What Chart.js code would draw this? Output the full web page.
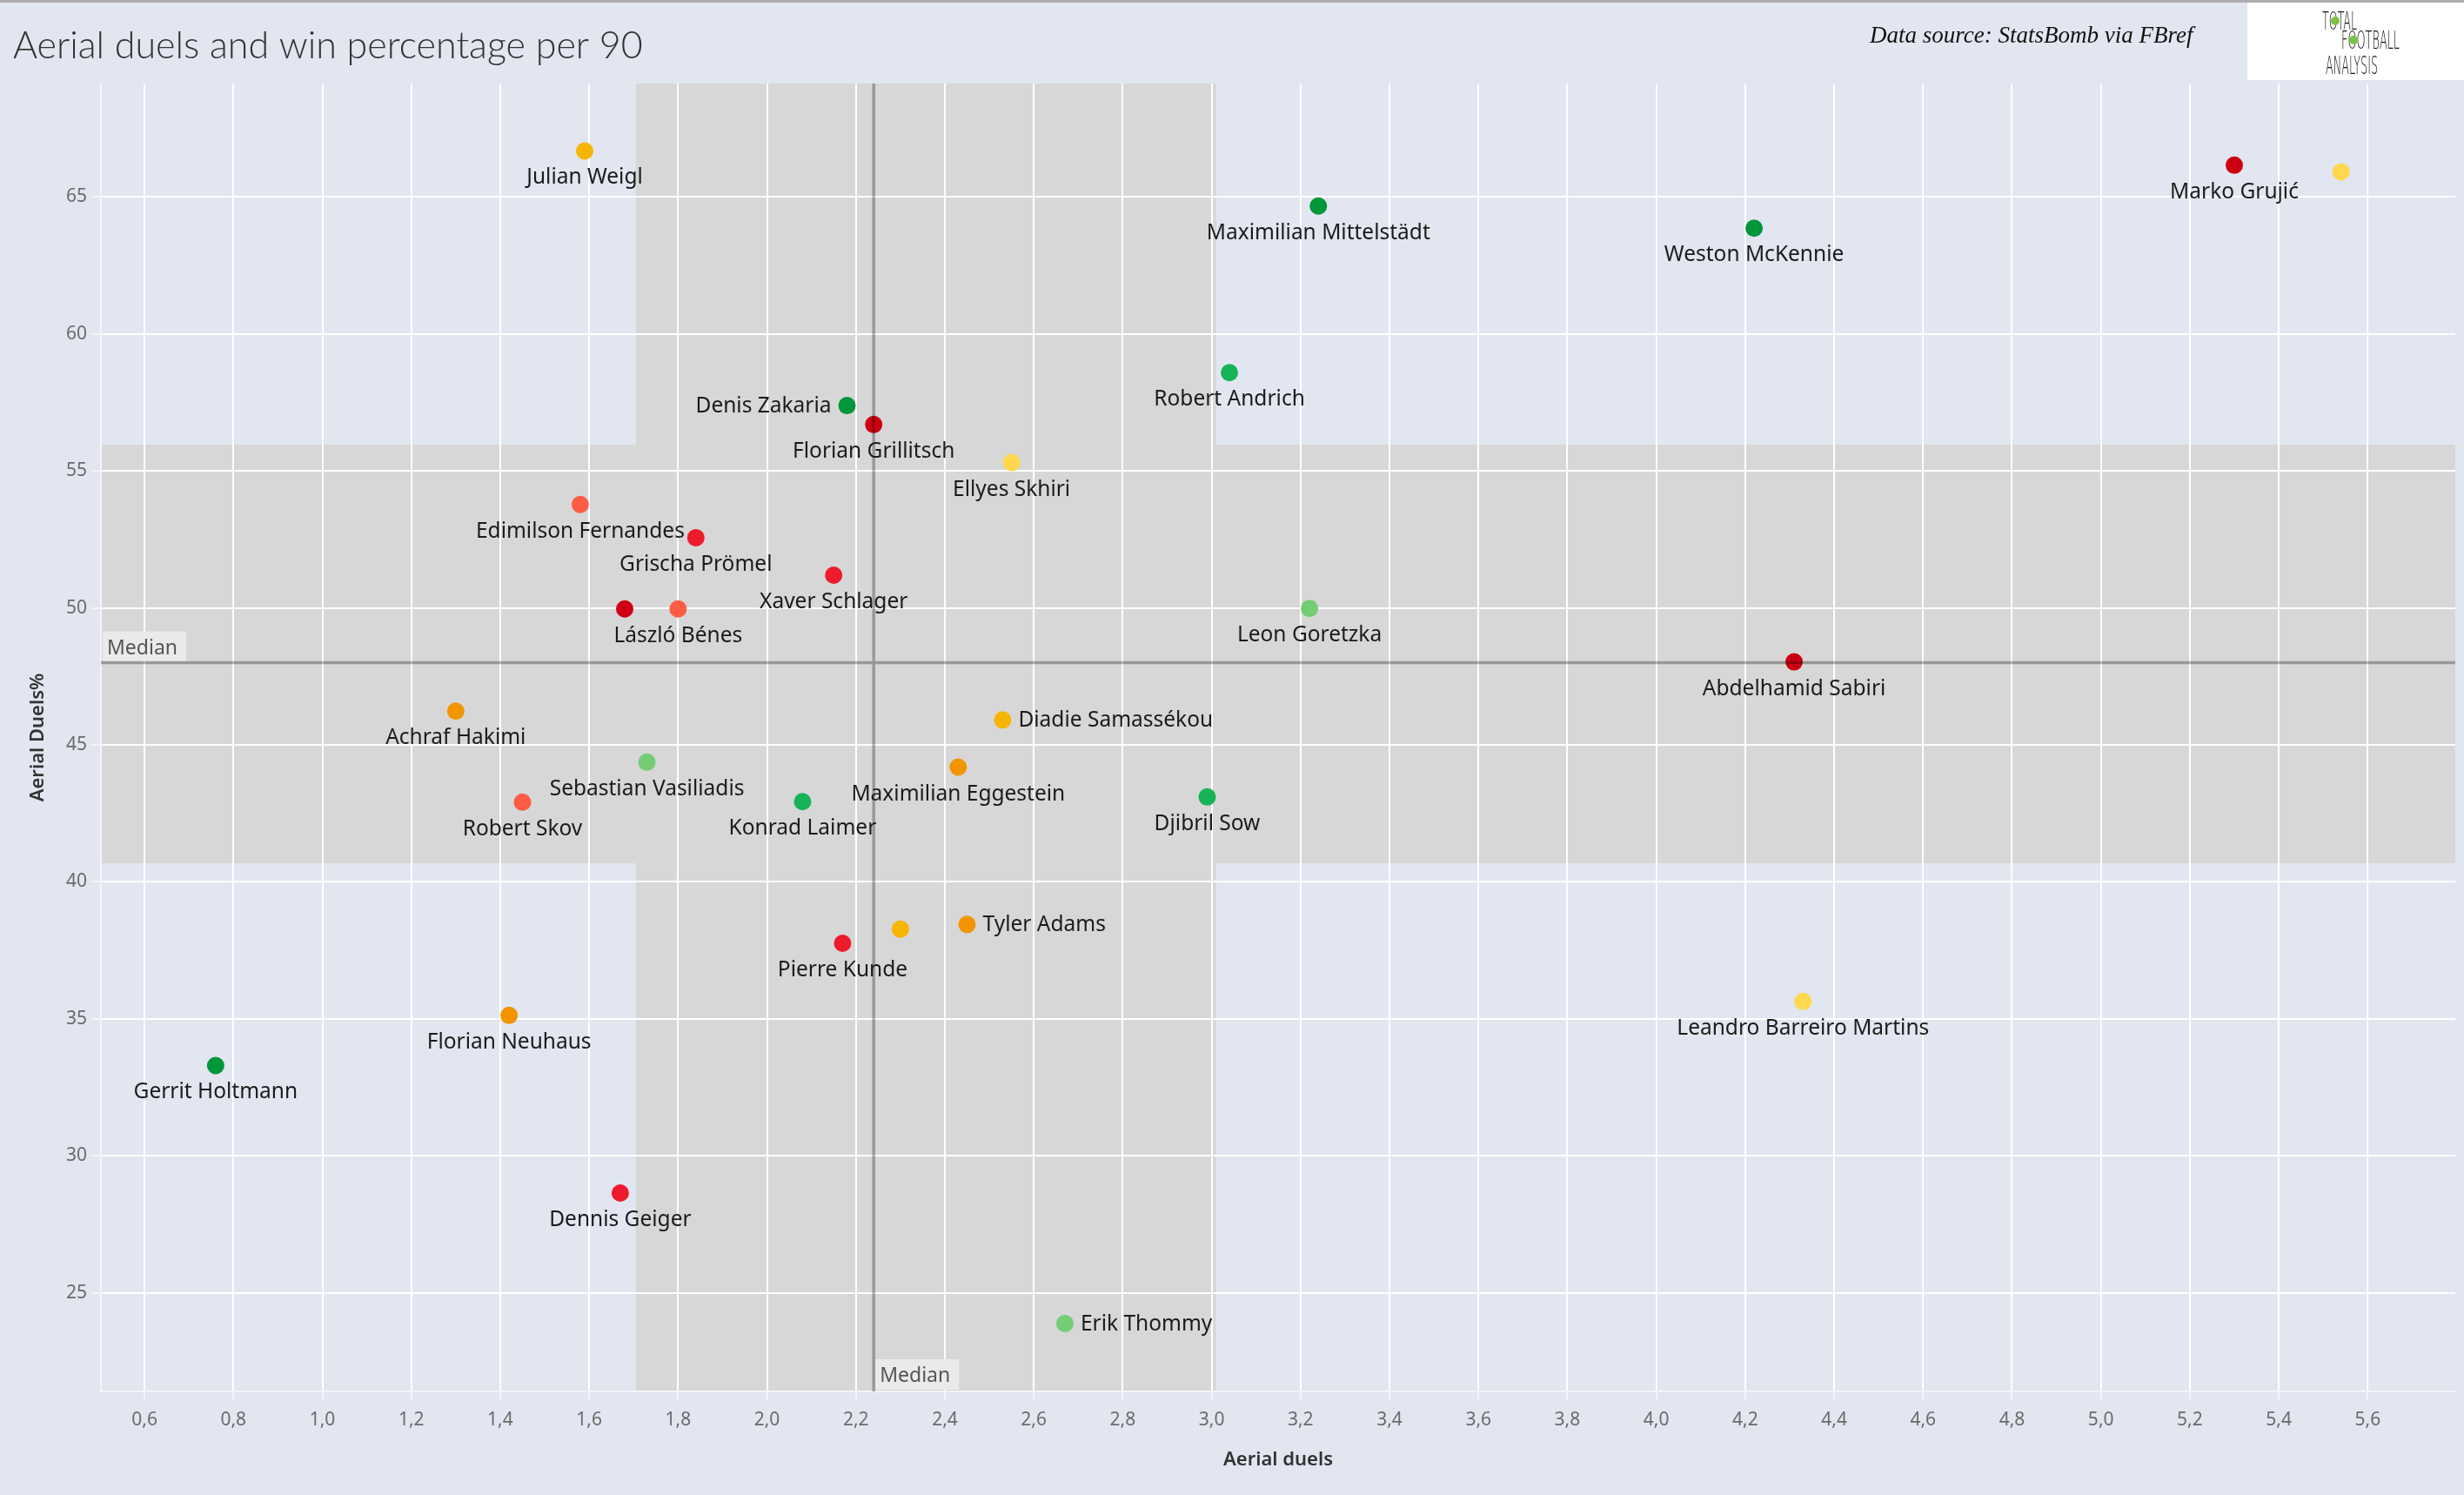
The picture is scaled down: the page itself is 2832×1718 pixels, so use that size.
<!DOCTYPE html>
<html>
<head>
<meta charset="utf-8">
<title>Aerial duels and win percentage per 90</title>
<script src="https://cdn.jsdelivr.net/npm/chart.js@4.4.1/dist/chart.umd.min.js"></script>
<style>
    html, body { margin: 0; padding: 0; background: #e1e6f0; }
    #chart { display: block; }
</style>
</head>
<body>
<canvas id="chart" width="2832" height="1718"></canvas>
<script>
// Players (empty name = dot whose label is hidden in the original)
const players = [
    'Julian Weigl', 'Marko Grujić', '', 'Maximilian Mittelstädt', 'Weston McKennie',
    'Robert Andrich', 'Denis Zakaria', 'Florian Grillitsch', 'Ellyes Skhiri', 'Edimilson Fernandes',
    'Grischa Prömel', 'Xaver Schlager', '', 'László Bénes', 'Leon Goretzka',
    'Abdelhamid Sabiri', 'Achraf Hakimi', 'Diadie Samassékou', 'Sebastian Vasiliadis', 'Maximilian Eggestein',
    'Robert Skov', 'Konrad Laimer', 'Djibril Sow', 'Tyler Adams', '',
    'Pierre Kunde', 'Leandro Barreiro Martins', 'Florian Neuhaus', 'Gerrit Holtmann', 'Dennis Geiger',
    'Erik Thommy'
];

// Aerial duels per 90
const aerialDuels = [
    1.59, 5.30, 5.54, 3.24, 4.22,
    3.04, 2.18, 2.24, 2.55, 1.58,
    1.84, 2.15, 1.68, 1.80, 3.22,
    4.31, 1.30, 2.53, 1.73, 2.43,
    1.45, 2.08, 2.99, 2.45, 2.30,
    2.17, 4.33, 1.42, 0.76, 1.67,
    2.67
];

// Aerial duels won %
const aerialWinPct = [
    66.67, 66.15, 65.91, 64.66, 63.85,
    58.58, 57.38, 56.69, 55.30, 53.77,
    52.56, 51.19, 49.96, 49.96, 49.98,
    48.03, 46.23, 45.91, 44.37, 44.19,
    42.91, 42.93, 43.10, 38.45, 38.28,
    37.76, 35.64, 35.13, 33.30, 28.65,
    23.89
];

const medianDuels = 2.24;
const medianWinPct = 48.0;
const bandDuels = [1.705, 3.01];
const bandWinPct = [40.68, 55.95];

const xTickValues = [0.6, 0.8, 1.0, 1.2, 1.4, 1.6, 1.8, 2.0, 2.2, 2.4, 2.6, 2.8, 3.0,
    3.2, 3.4, 3.6, 3.8, 4.0, 4.2, 4.4, 4.6, 4.8, 5.0, 5.2, 5.4, 5.6];
const yTickValues = [25, 30, 35, 40, 45, 50, 55, 60, 65];

// colours and label placement, one per player
const DARK_RED = '#cc0012', RED = '#ee1b2d', TOMATO = '#ff5c45', ORANGE = '#f29500',
    AMBER = '#f6b500', YELLOW = '#ffd84f', LIGHT_GREEN = '#74cd74', GREEN = '#17b357', DARK_GREEN = '#00963a';

const pointColors = [
    AMBER, DARK_RED, YELLOW, DARK_GREEN, DARK_GREEN,
    GREEN, DARK_GREEN, DARK_RED, YELLOW, TOMATO,
    RED, RED, DARK_RED, TOMATO, LIGHT_GREEN,
    DARK_RED, ORANGE, AMBER, LIGHT_GREEN, ORANGE,
    TOMATO, GREEN, GREEN, ORANGE, AMBER,
    RED, YELLOW, ORANGE, DARK_GREEN, RED,
    LIGHT_GREEN
];

const labelSide = [
    'below', 'below', 'below', 'below', 'below',
    'below', 'left', 'below', 'below', 'below',
    'below', 'below', 'below', 'below', 'below',
    'below', 'below', 'right', 'below', 'below',
    'below', 'below', 'below', 'right', 'below',
    'below', 'below', 'below', 'below', 'below',
    'right'
];

Chart.defaults.font.family = '"Noto Sans", sans-serif';

// draws a word squeezed to a given width (logo lettering)
function fitText(ctx, text, x, y, width) {
    const w = ctx.measureText(text).width;
    ctx.save();
    ctx.translate(x, y);
    ctx.scale(width / w, 1);
    ctx.fillText(text, 0, 0);
    ctx.restore();
}

// background, header and the shaded bands (under the grid)
const backdropPlugin = {
    id: 'backdrop',
    beforeDraw(chart) {
        const {ctx, chartArea: a, scales: {x, y}} = chart;
        ctx.save();
        ctx.fillStyle = '#e1e6f0';
        ctx.fillRect(0, 0, chart.width, chart.height);
        ctx.fillStyle = '#adadad';
        ctx.fillRect(0, 0, chart.width, 3);

        // bands
        ctx.fillStyle = '#d7d7d7';
        const bx0 = x.getPixelForValue(bandDuels[0]);
        const bx1 = x.getPixelForValue(bandDuels[1]);
        ctx.fillRect(bx0, a.top, bx1 - bx0, a.bottom - a.top);
        const by0 = y.getPixelForValue(bandWinPct[1]);
        const by1 = y.getPixelForValue(bandWinPct[0]);
        ctx.fillRect(a.left, by0, a.right - a.left, by1 - by0);

        // title
        ctx.fillStyle = '#333333';
        ctx.font = '300 43px Lato';
        ctx.textBaseline = 'alphabetic';
        ctx.textAlign = 'left';
        ctx.fillText('Aerial duels and win percentage per 90', 15, 67);

        // source
        ctx.fillStyle = '#111111';
        ctx.font = 'italic 27px "Liberation Serif"';
        ctx.fillText('Data source: StatsBomb via FBref', 2149, 49);

        // logo
        ctx.fillStyle = '#ffffff';
        ctx.fillRect(2583, 3, 249, 89);
        ctx.fillStyle = '#111111';
        ctx.font = '200 28px "DejaVu Sans"';
        fitText(ctx, 'TOTAL', 2669, 34, 40);
        fitText(ctx, 'FOOTBALL', 2691, 56, 67);
        fitText(ctx, 'ANALYSIS', 2673, 85, 60);
        ctx.fillStyle = '#7cc243';
        ctx.beginPath();
        ctx.arc(2684, 24, 5, 0, Math.PI * 2);
        ctx.fill();
        ctx.beginPath();
        ctx.arc(2705, 46, 5, 0, Math.PI * 2);
        ctx.fill();
        ctx.restore();
    }
};

// median lines, their tags and the player names (over the dots)
const overlayPlugin = {
    id: 'overlay',
    afterDatasetsDraw(chart) {
        const {ctx, chartArea: a, scales: {x, y}} = chart;
        const mx = x.getPixelForValue(medianDuels);
        const my = y.getPixelForValue(medianWinPct);
        ctx.save();

        ctx.strokeStyle = 'rgba(0, 0, 0, 0.29)';
        ctx.lineWidth = 3.5;
        ctx.beginPath();
        ctx.moveTo(a.left, my);
        ctx.lineTo(a.right, my);
        ctx.moveTo(mx, a.top);
        ctx.lineTo(mx, a.bottom);
        ctx.stroke();

        ctx.font = '23px "Noto Sans"';
        ctx.textBaseline = 'alphabetic';
        ctx.textAlign = 'left';
        ctx.fillStyle = '#eaeaea';
        ctx.fillRect(a.left + 2, my - 36, 96, 34);
        ctx.fillRect(mx + 2, a.bottom - 37, 96, 35);
        ctx.fillStyle = '#555555';
        ctx.fillText('Median', a.left + 7, my - 10);
        ctx.fillText('Median', mx + 7, a.bottom - 11);

        // names
        const meta = chart.getDatasetMeta(0);
        ctx.font = '24.5px "Noto Sans"';
        ctx.fillStyle = '#1b1b1b';
        ctx.textBaseline = 'middle';
        meta.data.forEach((pt, i) => {
            if (!players[i]) return;
            const side = labelSide[i];
            if (side === 'right') {
                ctx.textAlign = 'left';
                ctx.fillText(players[i], pt.x + 18, pt.y + 1);
            } else if (side === 'left') {
                ctx.textAlign = 'right';
                ctx.fillText(players[i], pt.x - 18, pt.y + 1);
            } else {
                ctx.textAlign = 'center';
                ctx.fillText(players[i], pt.x, pt.y + 31);
            }
        });
        ctx.restore();
    }
};

const ctx = document.getElementById('chart');
new Chart(ctx, {
    type: 'scatter',
    data: {
        datasets: [{
            data: aerialDuels.map((v, i) => ({x: v, y: aerialWinPct[i]})),
            pointBackgroundColor: pointColors,
            pointBorderWidth: 0,
            pointRadius: 10,
            pointHoverRadius: 10
        }]
    },
    options: {
        responsive: false,
        animation: false,
        devicePixelRatio: 1,
        layout: { padding: { top: 96, right: 6, left: 0, bottom: 0 } },
        plugins: {
            legend: { display: false },
            tooltip: { enabled: false }
        },
        scales: {
            x: {
                type: 'linear',
                min: 0.502,
                max: 5.797,
                afterFit(scale) { scale.height = 119; },
                afterBuildTicks(scale) { scale.ticks = xTickValues.map(v => ({value: v})); },
                grid: { color: '#ffffff', lineWidth: 2, tickLength: 10, tickColor: '#f3f4f8' },
                border: { color: '#f3f4f8', width: 2 },
                ticks: {
                    padding: 10,
                    color: '#6b6b6b',
                    font: { size: 21 },
                    autoSkip: false,
                    maxRotation: 0,
                    callback: v => v.toFixed(1).replace('.', ',')
                },
                title: {
                    display: true,
                    text: 'Aerial duels',
                    color: '#333333',
                    font: { size: 22, weight: '600' },
                    padding: { top: 0, bottom: 27 }
                }
            },
            y: {
                type: 'linear',
                min: 21.41,
                max: 69.13,
                afterFit(scale) { scale.width = 116; },
                afterBuildTicks(scale) { scale.ticks = yTickValues.map(v => ({value: v})); },
                grid: { color: '#ffffff', lineWidth: 2, tickLength: 11, tickColor: '#f3f4f8' },
                border: { color: '#f3f4f8', width: 2 },
                ticks: {
                    padding: 5,
                    color: '#6b6b6b',
                    font: { size: 21 },
                    callback: v => String(v)
                },
                title: {
                    display: true,
                    text: 'Aerial Duels%',
                    color: '#333333',
                    font: { size: 22, weight: '600' },
                    padding: { top: 31, bottom: 0 }
                }
            }
        }
    },
    plugins: [backdropPlugin, overlayPlugin]
});
</script>
</body>
</html>
